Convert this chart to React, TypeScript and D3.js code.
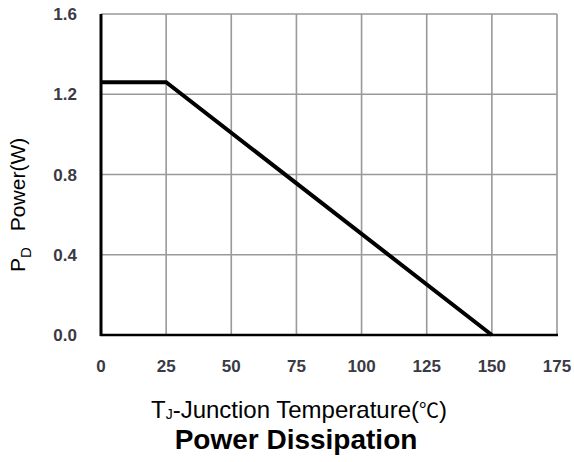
import React from "react";
import * as d3 from "d3";

const xTicks = [0, 25, 50, 75, 100, 125, 150, 175];
const yTicks = [0.0, 0.4, 0.8, 1.2, 1.6];
const curveT = [0, 25, 150];
const curveP = [1.26, 1.26, 0];

export default function App() {
  const W = 574, H = 462;
  const left = 101, right = 557, top = 14, bottom = 335;
  const x = d3.scaleLinear().domain([0, 175]).range([left, right]);
  const y = d3.scaleLinear().domain([0, 1.6]).range([bottom, top]);
  const line = d3.line<number>().x((d, i) => x(curveT[i])).y((d) => y(d));
  const font = "'Liberation Sans', Arial, sans-serif";
  return (
    <svg width={W} height={H} style={{ position: "absolute", left: 0, top: 0, background: "#fff" }}>
      {xTicks.slice(1).map((t) => (
        <line key={"gx" + t} x1={x(t)} x2={x(t)} y1={top} y2={bottom} stroke="#999" strokeWidth={1.6} />
      ))}
      {yTicks.slice(1).map((t) => (
        <line key={"gy" + t} x1={left} x2={right} y1={y(t)} y2={y(t)} stroke="#999" strokeWidth={1.6} />
      ))}
      <line x1={left} x2={left} y1={top} y2={bottom + 1} stroke="#000" strokeWidth={3} />
      <line x1={left - 1} x2={right + 1} y1={bottom} y2={bottom} stroke="#000" strokeWidth={2.5} />
      <path d={line(curveP) || ""} fill="none" stroke="#000" strokeWidth={4} />
      {yTicks.map((t) => (
        <text key={"ty" + t} x={77} y={y(t) + 6} textAnchor="end" fontFamily={font} fontSize={17} fontWeight="bold" fill="#3a3a44">
          {t.toFixed(1)}
        </text>
      ))}
      {xTicks.map((t) => (
        <text key={"tx" + t} x={x(t)} y={372} textAnchor="middle" fontFamily={font} fontSize={17} fontWeight="bold" fill="#3a3a44">
          {t}
        </text>
      ))}
      <text transform="translate(25,272) rotate(-90)" textAnchor="start" fontFamily={font} fontSize={21} fill="#000">
        <tspan>P</tspan>
        <tspan fontSize={15} dy={6}>D</tspan>
        <tspan dy={-6} dx={16}>Power(W)</tspan>
      </text>
      <text x={299} y={418} textAnchor="middle" fontFamily={font} fontSize={24} fill="#000">
        <tspan>T</tspan>
        <tspan fontSize={14} dy={1}>J</tspan>
        <tspan dy={-1}>-Junction Temperature(</tspan>
        <tspan fontFamily="'Noto Sans CJK SC', sans-serif" fontSize={20}>℃</tspan>
        <tspan>)</tspan>
      </text>
      <text x={296} y={449} textAnchor="middle" fontFamily={font} fontSize={28} fontWeight="bold" fill="#000">
        Power Dissipation
      </text>
    </svg>
  );
}
